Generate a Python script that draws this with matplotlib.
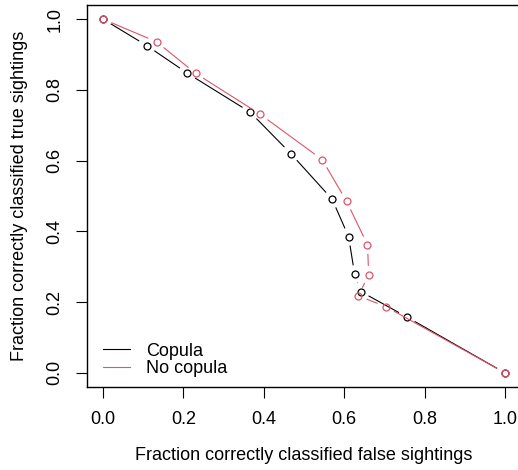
import numpy as np
import matplotlib
matplotlib.use("Agg")
import matplotlib.pyplot as plt

plt.rcParams['font.family'] = ['Liberation Sans', 'DejaVu Sans']

# fraction correctly classified false / true sightings
copula_x = [0.0, 0.109, 0.210, 0.366, 0.467, 0.570, 0.611, 0.626, 0.641, 0.756, 1.0]
copula_y = [1.0, 0.925, 0.847, 0.737, 0.620, 0.491, 0.385, 0.279, 0.230, 0.158, 0.0]
nocop_x = [0.0, 0.133, 0.230, 0.391, 0.545, 0.606, 0.658, 0.661, 0.635, 0.704, 1.0]
nocop_y = [1.0, 0.936, 0.847, 0.731, 0.603, 0.485, 0.362, 0.277, 0.218, 0.187, 0.0]
labels = ['Copula', 'No copula']
colors = ['black', '#DF536B']

fig = plt.figure(figsize=(5.18, 4.70), dpi=100)
# axes box in pixels: left 87, right 521 (cropped), top 5, bottom 387
ax = fig.add_axes([87 / 518, (470 - 387) / 470, 434 / 518, 382 / 470])
ax.set_xlim(-0.04, 1.04)
ax.set_ylim(-0.04, 1.04)
ax.set_autoscale_on(False)
fig.canvas.draw()


def type_b(x, y, color, gap=9):
    # R style type="b": points joined by lines that stop short of each point
    pts = ax.transData.transform(np.column_stack([x, y]))
    inv = ax.transData.inverted()
    for p0, p1 in zip(pts[:-1], pts[1:]):
        d = p1 - p0
        L = np.hypot(*d)
        if L <= 2 * gap:
            continue
        u = d / L
        a = inv.transform(p0 + u * gap)
        b = inv.transform(p1 - u * gap)
        ax.plot([a[0], b[0]], [a[1], b[1]], color=color, lw=0.8,
                solid_capstyle='butt')
    ax.plot(x, y, 'o', ms=5, mfc='none', mec=color, mew=0.9)


type_b(copula_x, copula_y, colors[0])
type_b(nocop_x, nocop_y, colors[1])

for lab, c in zip(labels, colors):
    ax.plot([], [], color=c, lw=0.8, label=lab)
ax.legend(loc='lower left', bbox_to_anchor=(0.037, 0.025), frameon=False,
          fontsize=13, handlelength=1.5, handletextpad=0.9, labelspacing=0.05,
          borderpad=0, borderaxespad=0)

ticks = [0.0, 0.2, 0.4, 0.6, 0.8, 1.0]
ax.set_xticks(ticks)
ax.set_yticks(ticks)
ax.set_xticklabels([f'{t:.1f}' for t in ticks])
ax.set_yticklabels([f'{t:.1f}' for t in ticks], rotation=90, va='center')
ax.tick_params(length=8, width=0.8, labelsize=13, pad=9)

for s in ax.spines.values():
    s.set_linewidth(1.0)

ax.set_xlabel('Fraction correctly classified false sightings', fontsize=13)
ax.set_ylabel('Fraction correctly classified true sightings', fontsize=13)
ax.xaxis.set_label_coords(0.5, -68 / 382)
ax.xaxis.label.set_va('center')
ax.yaxis.set_label_coords(-67 / 434, 0.5)
ax.yaxis.label.set_va('center')

fig.savefig('out.png', dpi=100)
